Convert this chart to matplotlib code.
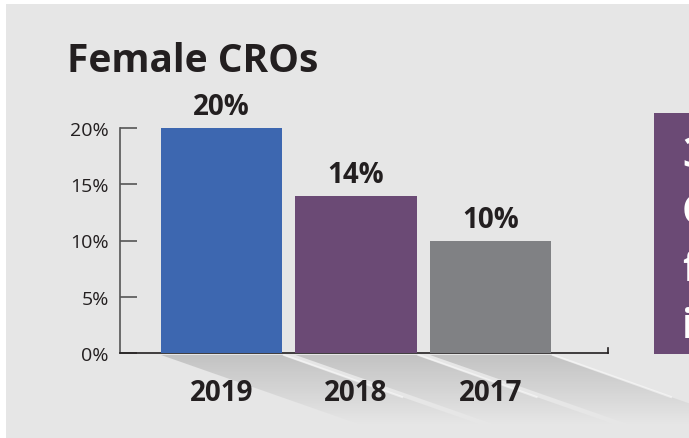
import numpy as np
import matplotlib
matplotlib.use("Agg")
import matplotlib.pyplot as plt
from matplotlib.patches import Polygon, Rectangle

# data
years = ["2019", "2018", "2017"]
shares = [20, 14, 10]
bar_colors = ["#3d67b0", "#6b4a75", "#808184"]
yticks = [0, 5, 10, 15, 20]
side_panel_lines = ["3", "C", "f", "i"]

plt.rcParams['font.family'] = ['Open Sans', 'DejaVu Sans']
BG = "#e6e6e6"
TXT = "#231f20"

W, H = 689, 439
fig = plt.figure(figsize=(W / 100, H / 100), dpi=100, facecolor="white")

# background layer in pixel coordinates
bg = fig.add_axes([0, 0, 1, 1], zorder=0)
bg.set_xlim(0, W)
bg.set_ylim(H, 0)
bg.axis("off")
bg.add_patch(Rectangle((6, 5), W, H, color=BG, lw=0))

# purple side panel, text runs off the right edge like in the source
bg.add_patch(Rectangle((654, 114), 40, 241, color="#6b4a75", lw=0))
for i, s in enumerate(side_panel_lines):
    bg.text(682, 157 + i * 57, s, color="white", fontsize=30, fontweight="bold",
            va="center", ha="left")

# main axes
ax = fig.add_axes([120 / W, 85 / H, (608 - 120) / W, (354 - 129) / H], zorder=2)
ax.patch.set_alpha(0)
x = np.arange(len(years))
bars = ax.bar(x, shares, width=0.9, color=bar_colors, zorder=3)
ax.set_xlim(-0.755, 2.874)
ax.set_ylim(0, 20)

for b, v in zip(bars, shares):
    ax.text(b.get_x() + b.get_width() / 2, v + 0.6, f"{v}%", ha="center", va="bottom",
            fontsize=20, fontweight="bold", color=TXT, clip_on=False)

ax.set_yticks(yticks)
ax.set_yticklabels([f"{t}%" for t in yticks], fontsize=14, color=TXT)
ax.tick_params(axis="y", direction="in", length=12, width=1.2, color="#555555", pad=8)
ax.set_xticks(x)
ax.set_xticklabels(years, fontsize=20, fontweight="bold", color=TXT)
ax.tick_params(axis="x", length=0, pad=18)

for s in ["top", "right"]:
    ax.spines[s].set_visible(False)
ax.spines["left"].set_color("#555555")
ax.spines["left"].set_linewidth(1.2)
ax.spines["bottom"].set_color(TXT)
ax.spines["bottom"].set_linewidth(1.2)
# small end tick at the right of the baseline
ax.plot([ax.get_xlim()[1]] * 2, [0, 0.45], color=TXT, lw=1.2, clip_on=False)

# fading shadows under the bars (drawn in pixel space)
fig.canvas.draw()
grad = np.linspace(0.25, 0.0, 100)[:, None]
rgba = np.zeros((100, 2, 4))
rgba[..., :3] = 0.35
rgba[..., 3] = grad
for b in bars:
    x0 = ax.transData.transform((b.get_x(), 0))[0]
    x1 = ax.transData.transform((b.get_x() + b.get_width(), 0))[0]
    y0 = 356
    dx, dy = 200, 70
    poly = Polygon([(x0, y0), (x1, y0), (x1 + dx, y0 + dy), (x0 + dx, y0 + dy)],
                   closed=True, fc="none", ec="none")
    bg.add_patch(poly)
    im = bg.imshow(rgba, extent=(x0, x1 + dx, y0 + dy, y0), aspect="auto",
                   interpolation="bilinear", zorder=1)
    im.set_clip_path(poly)
    bg.plot([x1 + 2, x1 + 120], [y0, y0 + 42], color="white", lw=1.5, alpha=0.5, zorder=1.5)
bg.set_xlim(0, W)
bg.set_ylim(H, 0)

fig.text(67 / W, 1 - 62 / H, "Female CROs", fontsize=28, fontweight="bold",
         color=TXT, va="center", ha="left")

fig.savefig("out.png", dpi=100, facecolor="white")
